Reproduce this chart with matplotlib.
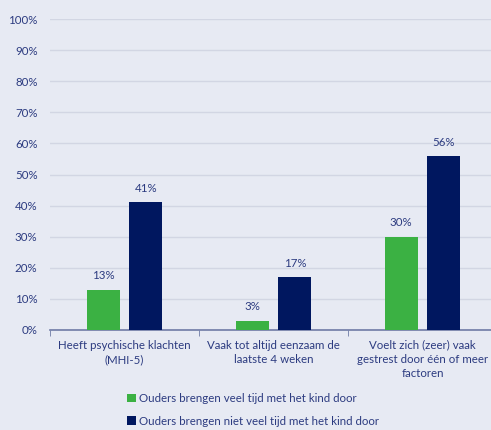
import numpy as np
import matplotlib
matplotlib.use("Agg")
import matplotlib.pyplot as plt

categories = ["Heeft psychische klachten\n(MHI-5)",
              "Vaak tot altijd eenzaam de\nlaatste 4 weken",
              "Voelt zich (zeer) vaak\ngestrest door één of meer\nfactoren"]
veel_tijd = [13, 3, 30]
niet_veel_tijd = [41, 17, 56]
series_names = ["Ouders brengen veel tijd met het kind door",
                "Ouders brengen niet veel tijd met het kind door"]

bg = "#e7eaf3"
txt = "#2c3b80"
green = "#3bb143"
navy = "#00175f"

plt.rcParams["font.family"] = ["Lato", "DejaVu Sans"]

fig = plt.figure(figsize=(4.91, 4.30), dpi=100, facecolor=bg)
ax = fig.add_axes([50 / 491, 1 - 330 / 430, 447 / 491, 311 / 430])
ax.set_facecolor(bg)

x = np.arange(len(categories))
w = 0.22
off = 0.143
b1 = ax.bar(x - off, veel_tijd, w, color=green, label=series_names[0], zorder=3)
b2 = ax.bar(x + off, niet_veel_tijd, w, color=navy, label=series_names[1], zorder=3)

for bars, vals in [(b1, veel_tijd), (b2, niet_veel_tijd)]:
    for b, v in zip(bars, vals):
        ax.annotate(f"{v}%", (b.get_x() + b.get_width() / 2, v),
                    xytext=(0, 6), textcoords="offset points",
                    ha="center", va="bottom", fontsize=8.3, color=txt)

ax.set_xlim(-0.5, len(categories) - 0.5)
ax.set_ylim(0, 100)
ax.set_yticks(range(0, 101, 10))
ax.set_yticklabels([f"{t}%" for t in range(0, 101, 10)])
ax.yaxis.grid(True, color="#d2d6e3", linewidth=1, zorder=0)
ax.tick_params(axis="y", length=0, pad=9, labelsize=8.3, labelcolor=txt)

ax.set_xticks(x)
ax.set_xticklabels(categories, fontsize=8.3, color=txt, linespacing=1.35)
ax.tick_params(axis="x", which="major", length=0, pad=7)
ax.set_xticks(np.arange(-0.5, len(categories), 1), minor=True)
ax.tick_params(axis="x", which="minor", length=4, color="#6f7ba6", direction="out")

for s in ["top", "right", "left"]:
    ax.spines[s].set_visible(False)
ax.spines["bottom"].set_color("#6f7ba6")
ax.spines["bottom"].set_linewidth(1.2)

fig.legend(handles=[b1, b2], loc="upper center", bbox_to_anchor=(0.516, 0.11),
           ncol=1, frameon=False, fontsize=8.3, labelcolor=txt,
           handlelength=0.75, handleheight=0.75, handletextpad=0.3, labelspacing=1.0)

fig.savefig("out.png", dpi=100, facecolor=bg)
